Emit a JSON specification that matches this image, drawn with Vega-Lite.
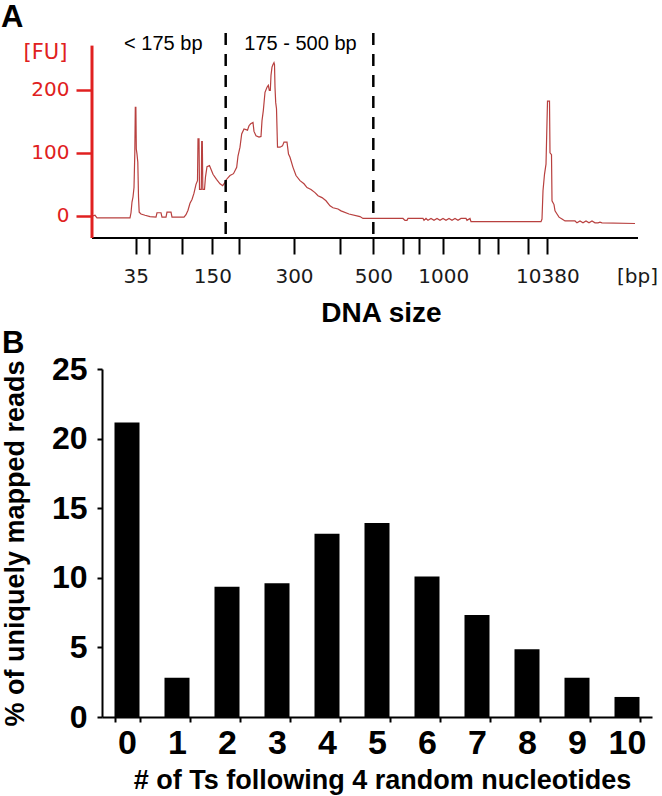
{
  "$schema": "https://vega.github.io/schema/vega-lite/v6.json",
  "background": "white",
  "padding": {"left": 1, "top": 1, "right": 4, "bottom": 2},
  "bounds": "flush",
  "spacing": 131,
  "config": {"view": {"stroke": null}, "axis": {"grid": false}},
  "vconcat": [
    {
      "width": 536,
      "height": 205,
      "title": {"text": "A", "anchor": "start", "frame": "group", "dx": -101, "offset": -26, "fontSize": 31, "font": "Liberation Sans", "fontWeight": "bold", "color": "black", "baseline": "alphabetic"},
      "layer": [
        {
          "data": {"values": [
            {"t": 36.16, "fu": 0}, {"t": 36.48, "fu": 1}, {"t": 36.8, "fu": -3}, {"t": 42.08, "fu": -3},
            {"t": 42.24, "fu": 5}, {"t": 42.4, "fu": 22}, {"t": 42.56, "fu": 30}, {"t": 42.72, "fu": 45},
            {"t": 42.85, "fu": 100}, {"t": 42.93, "fu": 172}, {"t": 43.02, "fu": 172}, {"t": 43.09, "fu": 106},
            {"t": 43.2, "fu": 98}, {"t": 43.33, "fu": 85}, {"t": 43.44, "fu": 30}, {"t": 43.55, "fu": 6},
            {"t": 43.84, "fu": 3}, {"t": 44.48, "fu": 1}, {"t": 45.28, "fu": -1}, {"t": 46.24, "fu": -2},
            {"t": 46.4, "fu": 5}, {"t": 47.04, "fu": 5}, {"t": 47.2, "fu": -2}, {"t": 47.84, "fu": -2},
            {"t": 48.0, "fu": 6}, {"t": 48.64, "fu": 6}, {"t": 48.8, "fu": -2}, {"t": 50.72, "fu": -2},
            {"t": 51.04, "fu": 2}, {"t": 51.36, "fu": 9}, {"t": 51.68, "fu": 20}, {"t": 52.0, "fu": 26},
            {"t": 52.32, "fu": 36}, {"t": 52.64, "fu": 50}, {"t": 52.88, "fu": 56}, {"t": 52.96, "fu": 122},
            {"t": 53.12, "fu": 122}, {"t": 53.2, "fu": 42}, {"t": 53.49, "fu": 42}, {"t": 53.55, "fu": 118},
            {"t": 53.65, "fu": 118}, {"t": 53.73, "fu": 42}, {"t": 54.0, "fu": 42}, {"t": 54.16, "fu": 62},
            {"t": 54.4, "fu": 78}, {"t": 54.8, "fu": 80}, {"t": 55.12, "fu": 72}, {"t": 55.36, "fu": 66},
            {"t": 55.92, "fu": 58}, {"t": 56.48, "fu": 51}, {"t": 56.91, "fu": 48}, {"t": 57.2, "fu": 52},
            {"t": 57.44, "fu": 57}, {"t": 58.08, "fu": 64}, {"t": 58.64, "fu": 67}, {"t": 59.15, "fu": 77},
            {"t": 59.36, "fu": 95}, {"t": 59.68, "fu": 109}, {"t": 59.95, "fu": 130}, {"t": 60.32, "fu": 138},
            {"t": 60.88, "fu": 136}, {"t": 61.12, "fu": 143}, {"t": 61.39, "fu": 146}, {"t": 61.76, "fu": 148},
            {"t": 61.92, "fu": 134}, {"t": 62.24, "fu": 127}, {"t": 62.72, "fu": 125}, {"t": 63.04, "fu": 126},
            {"t": 63.2, "fu": 151}, {"t": 63.41, "fu": 167}, {"t": 63.68, "fu": 196}, {"t": 64.0, "fu": 204},
            {"t": 64.21, "fu": 207}, {"t": 64.37, "fu": 199}, {"t": 64.53, "fu": 199}, {"t": 64.64, "fu": 223},
            {"t": 64.8, "fu": 236}, {"t": 64.96, "fu": 240}, {"t": 65.12, "fu": 243}, {"t": 65.2, "fu": 240},
            {"t": 65.28, "fu": 204}, {"t": 65.39, "fu": 180}, {"t": 65.52, "fu": 170}, {"t": 65.68, "fu": 109},
            {"t": 66.08, "fu": 109}, {"t": 66.48, "fu": 111}, {"t": 66.72, "fu": 117}, {"t": 67.2, "fu": 117},
            {"t": 67.44, "fu": 98}, {"t": 67.68, "fu": 93}, {"t": 68.16, "fu": 77}, {"t": 68.64, "fu": 64},
            {"t": 69.28, "fu": 56}, {"t": 69.92, "fu": 51}, {"t": 70.4, "fu": 45}, {"t": 71.04, "fu": 42},
            {"t": 71.68, "fu": 37}, {"t": 72.16, "fu": 32}, {"t": 72.8, "fu": 29}, {"t": 73.44, "fu": 24},
            {"t": 74.08, "fu": 16}, {"t": 74.56, "fu": 13}, {"t": 75.36, "fu": 11}, {"t": 75.84, "fu": 8},
            {"t": 77.12, "fu": 3}, {"t": 78.88, "fu": -1}, {"t": 79.36, "fu": -4}, {"t": 81.12, "fu": -4},
            {"t": 85.76, "fu": -4}, {"t": 86.08, "fu": -7}, {"t": 86.4, "fu": -7}, {"t": 86.56, "fu": -4},
            {"t": 88.96, "fu": -4}, {"t": 89.12, "fu": -7}, {"t": 89.44, "fu": -4}, {"t": 89.76, "fu": -7},
            {"t": 90.24, "fu": -4}, {"t": 90.72, "fu": -7}, {"t": 91.2, "fu": -4}, {"t": 91.68, "fu": -7},
            {"t": 92.16, "fu": -4}, {"t": 92.64, "fu": -7}, {"t": 93.12, "fu": -4}, {"t": 93.6, "fu": -7},
            {"t": 94.08, "fu": -4}, {"t": 94.56, "fu": -7}, {"t": 95.04, "fu": -4}, {"t": 95.84, "fu": -4},
            {"t": 96.0, "fu": -7}, {"t": 96.48, "fu": -4}, {"t": 96.64, "fu": -9}, {"t": 107.84, "fu": -9},
            {"t": 108.0, "fu": -5}, {"t": 108.16, "fu": 40}, {"t": 108.4, "fu": 66}, {"t": 108.64, "fu": 82},
            {"t": 108.88, "fu": 182}, {"t": 109.2, "fu": 182}, {"t": 109.28, "fu": 100}, {"t": 109.52, "fu": 97},
            {"t": 109.6, "fu": 24}, {"t": 109.92, "fu": 18}, {"t": 110.08, "fu": 8}, {"t": 110.4, "fu": 3},
            {"t": 110.72, "fu": -2}, {"t": 111.2, "fu": -5}, {"t": 111.68, "fu": -8}, {"t": 113.28, "fu": -8},
            {"t": 113.6, "fu": -11}, {"t": 114.08, "fu": -8}, {"t": 114.56, "fu": -11}, {"t": 115.04, "fu": -8},
            {"t": 115.52, "fu": -11}, {"t": 116.0, "fu": -8}, {"t": 116.48, "fu": -11}, {"t": 116.96, "fu": -11},
            {"t": 117.28, "fu": -10}, {"t": 117.6, "fu": -11}, {"t": 122.88, "fu": -12}
          ]},
          "mark": {"type": "line", "color": "#b8403f", "strokeWidth": 1.2, "interpolate": "linear"},
          "encoding": {
            "x": {
              "field": "t", "type": "quantitative",
              "scale": {"domain": [37.6, 123.36], "nice": false, "zero": false},
              "axis": {
                "values": [42.99, 45.17, 50.45, 55.25, 59.57, 68.32, 75.68, 81.01, 85.71, 88.37, 92.21, 97.97, 101.01, 105.81, 108.85, 123.2],
                "tickCount": 40,
                "labelExpr": "datum.value == 42.99 ? '35' : datum.value == 55.25 ? '150' : datum.value == 68.32 ? '300' : datum.value == 81.01 ? '500' : datum.value == 92.21 ? '1000' : datum.value == 108.85 ? '10380' : datum.value == 123.2 ? '[bp]' : ''",
                "domain": false,
                "tickColor": {"condition": {"test": "datum.value > 120", "value": "transparent"}, "value": "black"},
                "tickSize": 16, "tickWidth": 2,
                "labelFont": "DejaVu Sans", "labelFontSize": 20, "labelColor": "#1a1a1a", "labelPadding": 12,
                "labelOverlap": false, "labelFlush": false, "labelBound": false,
                "title": "DNA size", "titleFont": "Liberation Sans", "titleFontSize": 28, "titleFontWeight": "bold", "titleColor": "black",
                "titleX": 279, "titleY": 83, "titleAlign": "center", "titleBaseline": "alphabetic"
              }
            },
            "y": {
              "field": "fu", "type": "quantitative",
              "scale": {"domain": [-35, 290], "nice": false, "zero": false},
              "axis": {
                "values": [0, 100, 200], "domain": false, "offset": 10,
                "tickColor": "#e02020", "tickSize": 16, "tickWidth": 2.5,
                "labelColor": "#e02020", "labelFont": "DejaVu Sans", "labelFontSize": 20, "labelPadding": 7,
                "title": "[FU]", "titleColor": "#e02020", "titleFont": "DejaVu Sans", "titleFontSize": 21, "titleFontWeight": "normal",
                "titleAngle": 0, "titleAlign": "center", "titleBaseline": "middle", "titleX": -47, "titleY": 19
              }
            }
          }
        },
        {
          "data": {"values": [{"bp": 175, "t": 57.39}, {"bp": 500, "t": 81.01}]},
          "mark": {"type": "rule", "color": "black", "strokeWidth": 2.5, "strokeDash": [12, 9]},
          "encoding": {"x": {"field": "t", "type": "quantitative"}}
        },
        {
          "data": {"values": [{"label": "< 175 bp", "t": 47.41, "fu": 272}, {"label": "175 - 500 bp", "t": 69.36, "fu": 272}]},
          "mark": {"type": "text", "font": "Liberation Sans", "fontSize": 20, "color": "black", "baseline": "middle", "align": "center"},
          "encoding": {
            "x": {"field": "t", "type": "quantitative"},
            "y": {"field": "fu", "type": "quantitative"},
            "text": {"field": "label"}
          }
        },
        {
          "data": {"values": [{}]},
          "mark": {"type": "rule", "color": "black", "strokeWidth": 2},
          "encoding": {"x": {"datum": 36}, "x2": {"datum": 123.36}, "y": {"datum": -35}}
        },
        {
          "data": {"values": [{}]},
          "mark": {"type": "rule", "color": "#e02020", "strokeWidth": 3},
          "encoding": {"x": {"datum": 36}, "y": {"datum": -35}, "y2": {"datum": 270}}
        }
      ]
    },
    {
      "width": 550,
      "height": 348,
      "title": {"text": "B", "anchor": "start", "frame": "group", "dx": -100, "offset": -31, "fontSize": 31, "font": "Liberation Sans", "fontWeight": "bold", "color": "black", "baseline": "alphabetic"},
      "data": {"values": [
        {"n": 0, "pct": 21.15}, {"n": 1, "pct": 2.82}, {"n": 2, "pct": 9.36}, {"n": 3, "pct": 9.6},
        {"n": 4, "pct": 13.17}, {"n": 5, "pct": 13.93}, {"n": 6, "pct": 10.1}, {"n": 7, "pct": 7.32},
        {"n": 8, "pct": 4.86}, {"n": 9, "pct": 2.82}, {"n": 10, "pct": 1.44}
      ]},
      "mark": {"type": "bar", "color": "black"},
      "encoding": {
        "x": {
          "field": "n", "type": "ordinal",
          "scale": {"paddingInner": 0.5, "paddingOuter": 0.25},
          "axis": {
            "labelAngle": 0, "labelFont": "Liberation Sans", "labelFontWeight": "bold", "labelFontSize": 34, "labelColor": "black", "labelPadding": 4,
            "tickBand": "extent", "tickSize": 5, "tickWidth": 2, "tickColor": "black", "domainColor": "black", "domainWidth": 2,
            "title": "# of Ts following 4 random nucleotides", "titleFont": "Liberation Sans", "titleFontWeight": "bold", "titleFontSize": 27, "titleColor": "black",
            "titleX": 280, "titleY": 71, "titleAlign": "center", "titleBaseline": "alphabetic"
          }
        },
        "y": {
          "field": "pct", "type": "quantitative",
          "scale": {"domain": [0, 25], "nice": false},
          "axis": {
            "values": [0, 5, 10, 15, 20, 25],
            "labelFont": "Liberation Sans", "labelFontWeight": "bold", "labelFontSize": 32, "labelColor": "black", "labelPadding": 10,
            "tickSize": 5, "tickWidth": 2, "tickColor": "black", "domainColor": "black", "domainWidth": 2,
            "title": "% of uniquely mapped reads", "titleFont": "Liberation Sans", "titleFontWeight": "bold", "titleFontSize": 27, "titleColor": "black", "titlePadding": 22
          }
        }
      }
    }
  ]
}
